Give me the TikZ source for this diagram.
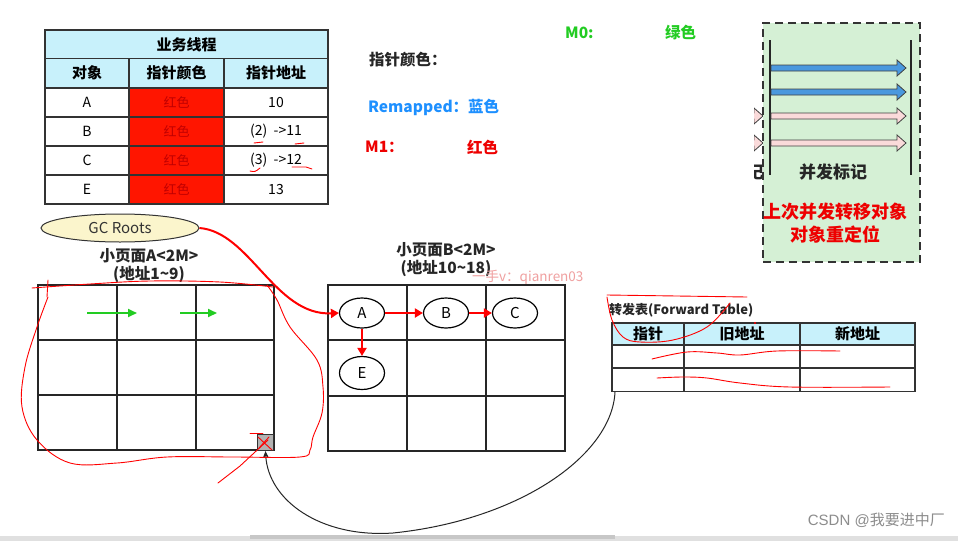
\documentclass[tikz,border=0pt]{standalone}
\usepackage{fontspec}
\setmainfont{Noto Sans CJK SC}
\newfontfamily\latinsans{Liberation Sans}
\usetikzlibrary{arrows.meta,shapes.geometric}
\definecolor{hdrcyan}{HTML}{C8F1FB}
\definecolor{redfill}{HTML}{FF1500}
\definecolor{darkred}{HTML}{C00000}
\definecolor{mzero}{HTML}{22CC22}
\definecolor{remap}{HTML}{1E90FF}
\definecolor{mone}{HTML}{EE0000}
\definecolor{panelgreen}{HTML}{D5F0D5}
\definecolor{bluearr}{HTML}{4A98DE}
\definecolor{pinkarr}{HTML}{FADADA}
\definecolor{gcfill}{HTML}{FBF5CC}
\definecolor{wmpink}{HTML}{F0A0A0}
\newcommand\cellfnt{\fontsize{14}{16}\selectfont}
\newcommand\hdrfnt{\fontsize{15}{17}\selectfont\bfseries}
\newcommand\lblfnt{\fontsize{15.5}{17}\selectfont\bfseries}
\begin{document}
\begin{tikzpicture}[x=1pt,y=-1pt,
  cell/.style={draw=black!80, line width=1.1pt, inner sep=0pt, font=\cellfnt},
  hdr/.style={cell, fill=hdrcyan, font=\hdrfnt},
  redcell/.style={cell, fill=redfill, text=darkred, font=\fontsize{13}{15}\selectfont},
  gridbox/.style={draw=black!85, line width=1.3pt, inner sep=0pt},
  gline/.style={draw=black!85, line width=1.3pt},
  obj/.style={ellipse, draw=black, line width=1.2pt, fill=white, minimum width=45pt, minimum height=30pt, inner sep=0pt, font=\fontsize{15}{17}\selectfont},
  refarrow/.style={draw=red, line width=2pt, -{Triangle[length=8pt,width=9pt]}},
  hand/.style={draw=red, line width=0.9pt, line cap=round, line join=round},
  lbl/.style={font=\lblfnt, text=black!85, inner sep=0pt},
  blockarrow/.style={draw=black!75, line width=0.8pt},
]
\useasboundingbox[fill=white] (0,0) rectangle (958,541);

% ---------- business thread table ----------
\node[hdr, minimum width=283pt, minimum height=29pt] (th) at (186.5,44.5) {业务线程};
\node[hdr, minimum width=84pt, minimum height=29pt] (h1) at (87,73) {对象};
\node[hdr, minimum width=95pt, minimum height=29pt] (h2) at (176.5,73) {指针颜色};
\node[hdr, minimum width=104pt, minimum height=29pt] (h3) at (276,73) {指针地址};
\foreach \n/\y/\o/\a in {1/102.5/A/10, 2/131.5/B/{(2)\ \ ->11}, 3/160.5/C/{(3)\ \ ->12}, 4/189.5/E/13}{
  \node[cell, minimum width=84pt, minimum height=29pt] (o\n) at (87,\y) {\o};
  \node[redcell, minimum width=95pt, minimum height=29pt] (c\n) at (176.5,\y) {红色};
  \node[cell, minimum width=104pt, minimum height=29pt] (a\n) at (276,\y) {\a};
}
% underline scribbles
\draw[hand] (254,143) -- (263,142);
\draw[hand] (295,144) -- (304,143);
\draw[hand] (250,171) .. controls (255,172) .. (260,168);
\draw[hand] (292,167) -- (306,167) -- (312,169);

% ---------- colour legend ----------
\node[lbl, anchor=west] (legend) at (369,60) {指针颜色：};
\node[lbl, anchor=west, text=remap] (remapped) at (368,107) {Remapped：蓝色};
\node[lbl, anchor=west, text=mone] (m1) at (365,147) {M1：};
\node[lbl, anchor=west, text=mone] (m1c) at (467,147) {红色};
\node[lbl, anchor=west, text=mzero] (m0) at (565,33) {M0:};
\node[lbl, anchor=west, text=mzero] (m0c) at (665,33) {绿色};

% ---------- partial content left of the panel ----------
\begin{scope}
  \clip (754,100) rectangle (763,180);
  \foreach \y in {116,143}
    \draw[blockarrow, fill=pinkarr] (700,\y-3) -- (754,\y-3) -- (754,\y-8) -- (763,\y) -- (754,\y+8) -- (754,\y+3) -- (700,\y+3) -- cycle;
  \node[font=\fontsize{17}{19}\selectfont\bfseries, text=black!85] (partial) at (755,172) {记};
\end{scope}

% ---------- concurrent marking panel ----------
\node[draw=black!80, dash pattern=on 8pt off 5pt, line width=1.3pt, fill=panelgreen, minimum width=157pt, minimum height=239pt, inner sep=0pt] (panel) at (841.5,142.5) {};
\draw[black!85, line width=1.5pt] (770,40) -- (770,175);
\draw[black!85, line width=1.5pt] (911,40) -- (911,175);
\foreach \y/\c in {68/bluearr, 92/bluearr, 116/pinkarr, 143/pinkarr}
  \draw[blockarrow, fill=\c] (771,\y-3) -- (897,\y-3) -- (897,\y-8) -- (906,\y) -- (897,\y+8) -- (897,\y+3) -- (771,\y+3) -- cycle;
\node[font=\fontsize{17}{19}\selectfont\bfseries, text=black!85] (cm) at (833,172) {并发标记};
\node[font=\fontsize{18}{20}\selectfont\bfseries, text=mone] (reloc1) at (835,212) {上次并发转移对象};
\node[font=\fontsize{18}{20}\selectfont\bfseries, text=mone] (reloc2) at (835,234) {对象重定位};

% ---------- GC roots ----------
\node[ellipse, draw=black!80, line width=1pt, fill=gcfill, minimum width=158pt, minimum height=28pt, inner sep=0pt, font=\fontsize{15}{17}\selectfont, text=black!80] (gc) at (120,228) {GC Roots};

% ---------- page A ----------
\node[lbl] (pa1) at (149,256) {小页面A<2M>};
\node[lbl] (pa2) at (149,274) {(地址1\textasciitilde 9)};
\node[gridbox, minimum width=236pt, minimum height=165pt] (gridA) at (156,367.5) {};
\draw[gline] (117,285) -- (117,450) (196,285) -- (196,450) (38,340) -- (274,340) (38,395) -- (274,395);
\draw[draw=mzero, line width=2pt, -{Triangle[length=9pt,width=8pt]}] (87,313) -- (137,313);
\draw[draw=mzero, line width=2pt, -{Triangle[length=9pt,width=8pt]}] (180,313) -- (217,313);
\node[draw=black!80, fill=gray!60, minimum size=16pt, inner sep=0pt, line width=1pt] (dead) at (265.5,442.5) {};

% ---------- page B ----------
\node[lbl] (pb1) at (446,250) {小页面B<2M>};
\node[lbl] (pb2) at (446,268) {(地址10\textasciitilde 18)};
\node[font=\fontsize{13.5}{15}\selectfont, text=wmpink, anchor=west, inner sep=0pt] (wm) at (472,277) {一手v：qianren03};
\node[gridbox, minimum width=237pt, minimum height=166pt] (gridB) at (446.5,368) {};
\draw[gline] (407,285) -- (407,451) (486,285) -- (486,451) (328,340) -- (565,340) (328,396) -- (565,396);
\node[obj] (oA) at (362,313) {A};
\node[obj] (oB) at (446,313) {B};
\node[obj] (oC) at (515,313) {C};
\node[obj, minimum height=33pt] (oE) at (362,373) {E};
\draw[refarrow] (oA) -- (oB);
\draw[refarrow] (oB) -- (oC);
\draw[refarrow] (oA) -- (oE);
\draw[refarrow] (gc.east) .. controls (250,232) and (275,316) .. (oA.west);

% ---------- forward table ----------
\node[font=\fontsize{13}{15}\selectfont\bfseries, text=black!85, anchor=west, inner sep=0pt] (ftt) at (609,310) {转发表(Forward Table)};
\node[hdr, minimum width=72pt, minimum height=22pt] (f1) at (648,334) {指针};
\node[hdr, minimum width=116pt, minimum height=22pt] (f2) at (742,334) {旧地址};
\node[hdr, minimum width=115pt, minimum height=22pt] (f3) at (857.5,334) {新地址};
\foreach \n/\y in {1/356, 2/380}{
  \node[cell, minimum width=72pt, minimum height=23pt] (g1\n) at (648,\y) {};
  \node[cell, minimum width=116pt, minimum height=23pt] (g2\n) at (742,\y) {};
  \node[cell, minimum width=115pt, minimum height=23pt] (g3\n) at (857.5,\y) {};
}
\coordinate (ftstart) at (615,392);
\draw[black!85, line width=1pt, -{Stealth[length=7pt,width=6pt]}] (ftstart) .. controls (612,455) and (520,520) .. (393,533) .. controls (320,538) and (268,500) .. (dead.south);

% ---------- red hand annotations ----------
\draw[hand] plot[smooth, tension=0.6] coordinates {(32,288) (90,284) (150,281) (220,282) (273,287)};
\draw[hand] (48,280) -- (47,297);
\draw[hand] plot[smooth, tension=0.6] coordinates {(48,297) (37,327) (25,367) (22,407) (37,440) (70,463) (117,463) (167,457) (233,457) (300,457) (310,450) (313,437) (322,413) (323,387) (317,360) (290,327) (277,300) (267,285)};
\draw[hand] (250,433) -- (263,433);
\draw[hand] (258,437) -- (272,450);
\draw[hand] (269,437) -- (259,448);
\draw[hand] (218,483) -- (240,466) -- (268,440);
\draw[hand] (607,295) -- (747,297);
\draw[hand] plot[smooth, tension=0.6] coordinates {(607,297) (612,320) (623,337) (640,342) (673,340) (707,327) (730,303)};
\draw[hand] plot[smooth, tension=0.6] coordinates {(652,359) (687,352) (717,353) (740,355) (777,351) (840,351)};
\draw[hand] plot[smooth, tension=0.6] coordinates {(657,378) (683,377) (707,378) (740,383) (790,387) (890,387)};
\fill[red] (755,323) circle (1.2pt);

% ---------- footer ----------
\fill[black!12] (0,536) rectangle (958,541);
\fill[black!22] (250,535) rectangle (615,539);
\node[font=\fontsize{15}{17}\selectfont, text=black!45, anchor=east, inner sep=0pt] (csdn) at (945,520) {{\latinsans CSDN @}我要进中厂};
\end{tikzpicture}
\end{document}
